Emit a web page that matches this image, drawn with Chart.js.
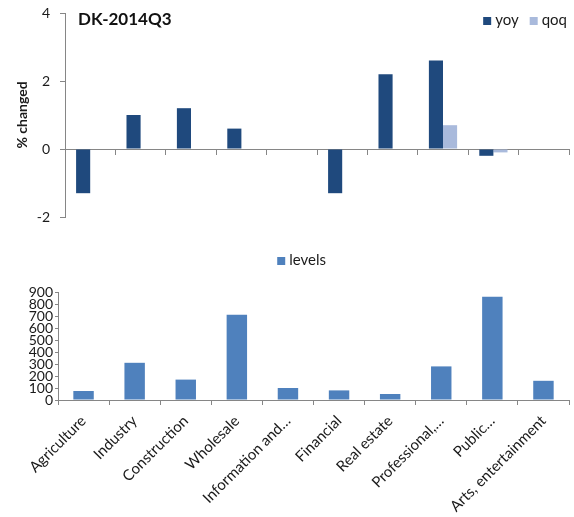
<!DOCTYPE html>
<html>
<head>
<meta charset="utf-8">
<script src="https://cdn.jsdelivr.net/npm/chart.js@4/dist/chart.umd.min.js"></script>
<style>
  body { margin: 0; background: #fff; }
  #wrap { position: relative; width: 574px; height: 517px; }
  #top { position: absolute; left: 0; top: 0; }
  #bottom { position: absolute; left: 0; top: 230px; }
</style>
</head>
<body>
<div id="wrap">
  <canvas id="top" width="574" height="230"></canvas>
  <canvas id="bottom" width="574" height="287"></canvas>
</div>
<script>
const categories = ['Agriculture', 'Industry', 'Construction', 'Wholesale', 'Information and…',
  'Financial', 'Real estate', 'Professional,…', 'Public…', 'Arts, entertainment'];
const yoy = [-1.3, 1.0, 1.2, 0.6, 0, -1.3, 2.2, 2.6, -0.2, 0];
const qoq = [0, 0, 0, 0, 0, 0, 0, 0.7, -0.1, 0];
const levels = [75, 310, 170, 710, 100, 80, 50, 280, 860, 160];
const pctTicks = [-2, 0, 2, 4];

const FONT = 'Lato, "Open Sans", sans-serif';
const AXIS = '#868686';
Chart.defaults.font.family = FONT;
Chart.defaults.color = '#1a1a1a';

// legend drawn by hand so it can sit where the original has it
function drawLegend(chart, right, cy) {
    const c = chart.ctx;
    c.save();
    c.textBaseline = 'middle';
    c.font = '15px ' + FONT;
    const sets = chart.data.datasets;
    let x = right;
    for (let i = sets.length - 1; i >= 0; i--) {
        x -= c.measureText(sets[i].label).width;
        c.fillStyle = '#1a1a1a';
        c.fillText(sets[i].label, x, cy);
        x -= 12;
        c.fillStyle = sets[i].backgroundColor;
        c.fillRect(x, cy - 3, 8, 8);
        x -= 11;
    }
    c.restore();
}

const topExtras = {
    id: 'topExtras',
    afterDraw(chart) {
        const c = chart.ctx;
        c.save();
        c.textBaseline = 'middle';
        c.font = 'bold 17px ' + FONT;
        c.fillStyle = '#111';
        c.fillText('DK-2014Q3', 78, 20);
        c.restore();
        drawLegend(chart, 567, 20);
    }
};

const bottomExtras = {
    id: 'bottomExtras',
    afterDraw(chart) {
        drawLegend(chart, 326, 30);
    }
};

const noScalePad = s => { s.paddingTop = 0; s.paddingBottom = 0; };

new Chart(document.getElementById('top'), {
    type: 'bar',
    data: {
        labels: categories,
        datasets: [
            { label: 'yoy', data: yoy, backgroundColor: '#1F497D' },
            { label: 'qoq', data: qoq, backgroundColor: '#A9BADC' }
        ]
    },
    options: {
        responsive: false,
        animation: false,
        layout: { padding: { top: 13, bottom: 13, right: 5, left: 0 } },
        datasets: { bar: { categoryPercentage: 0.56, barPercentage: 1 } },
        plugins: {
            legend: { display: false },
            tooltip: { enabled: false }
        },
        scales: {
            x: {
                position: { y: 0 },
                ticks: { display: false },
                grid: { drawOnChartArea: false, drawTicks: true, tickLength: 5, color: AXIS },
                border: { color: AXIS }
            },
            y: {
                min: -2, max: 4,
                afterBuildTicks: s => { s.ticks = pctTicks.map(v => ({ value: v })); },
                afterFit: s => { s.width = 65; noScalePad(s); },
                ticks: { font: { size: 14 }, padding: 10 },
                grid: { drawOnChartArea: false, tickLength: 5, color: AXIS },
                border: { color: AXIS },
                title: { display: true, text: '% changed', font: { size: 14, weight: 'bold' }, padding: { top: 14, bottom: 0 } }
            }
        }
    },
    plugins: [topExtras]
});

new Chart(document.getElementById('bottom'), {
    type: 'bar',
    data: {
        labels: categories,
        datasets: [{ label: 'levels', data: levels, backgroundColor: '#4F81BD' }]
    },
    options: {
        responsive: false,
        animation: false,
        layout: { padding: { top: 62, right: 5, left: 0, bottom: 0 } },
        datasets: { bar: { categoryPercentage: 0.4, barPercentage: 1 } },
        plugins: {
            legend: { display: false },
            tooltip: { enabled: false }
        },
        scales: {
            x: {
                afterFit: s => { s.height = 117; },
                ticks: { font: { size: 15 }, maxRotation: 45, minRotation: 45, autoSkip: false, padding: 7 },
                grid: { drawOnChartArea: false, tickLength: 5, color: AXIS },
                border: { color: AXIS }
            },
            y: {
                min: 0, max: 900,
                ticks: { stepSize: 100, font: { size: 14 }, padding: 2, autoSkip: false },
                afterFit: s => { s.width = 58; noScalePad(s); },
                grid: { drawOnChartArea: false, tickLength: 3, color: AXIS },
                border: { color: AXIS }
            }
        }
    },
    plugins: [bottomExtras]
});
</script>
</body>
</html>
